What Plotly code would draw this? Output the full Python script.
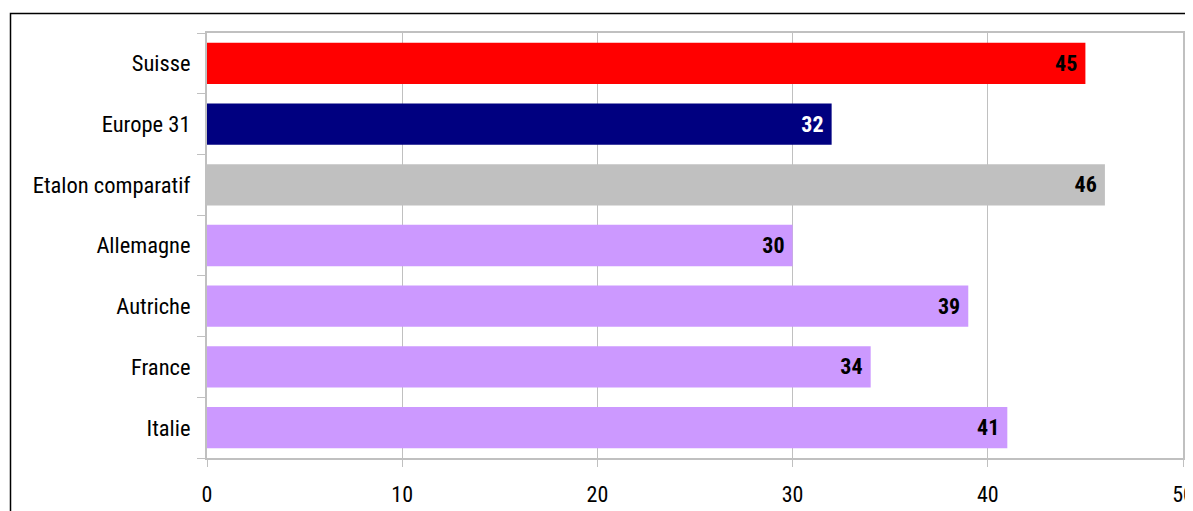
import plotly.graph_objects as go

categories = ["Suisse", "Europe 31", "Etalon comparatif", "Allemagne", "Autriche", "France", "Italie"]
values = [45, 32, 46, 30, 39, 34, 41]
bar_colors = ["#FF0000", "#000080", "#C0C0C0", "#CC99FF", "#CC99FF", "#CC99FF", "#CC99FF"]
label_colors = ["#000000", "#FFFFFF", "#000000", "#000000", "#000000", "#000000", "#000000"]
x_ticks = [0, 10, 20, 30, 40, 50]

narrow = ("Liberation Sans Narrow, Arial Narrow, Roboto Condensed, "
          "DejaVu Sans Condensed, sans-serif")

fig = go.Figure(go.Bar(
    y=categories,
    x=values,
    orientation="h",
    marker=dict(color=bar_colors, line=dict(width=0)),
    text=["<b>%d</b>\u00a0" % v for v in values],
    textposition="inside",
    insidetextanchor="end",
    textfont=dict(family=narrow, size=22, color=label_colors),
    constraintext="none",
    cliponaxis=False,
))

# page has an 8px body margin; figure sized so it fits in the 1193x511 window
W, H = 1185, 503
L, R, T, B = 199, 10, 25, 53
pw, ph = W - L - R, H - T - B

def px_x(x):
    return (x - L) / pw

def px_y(y):
    return 1 - (y - T) / ph

fig.update_layout(
    width=W, height=H,
    autosize=False,
    margin=dict(l=L, r=R, t=T, b=B, pad=0),
    paper_bgcolor="white",
    plot_bgcolor="white",
    showlegend=False,
    bargap=0.32,
    xaxis=dict(
        range=[0, 50],
        tickvals=x_ticks,
        ticktext=[str(t) for t in x_ticks],
        showgrid=True,
        gridcolor="#C0C0C0",
        gridwidth=1,
        showline=True,
        linecolor="#C0C0C0",
        linewidth=2,
        mirror=True,
        ticks="outside",
        ticklen=7,
        tickcolor="#C0C0C0",
        ticklabelstandoff=9,
        ticklabeloverflow="allow",
        tickfont=dict(family=narrow, size=22, color="#000000"),
        zeroline=False,
        automargin=False,
        fixedrange=True,
    ),
    yaxis=dict(
        categoryorder="array",
        categoryarray=categories[::-1],
        autorange=False,
        range=[-0.5, len(categories) - 0.5],
        showline=True,
        linecolor="#C0C0C0",
        linewidth=2,
        mirror=True,
        ticks="outside",
        tickson="boundaries",
        ticklen=8,
        tickcolor="#C0C0C0",
        tickfont=dict(family=narrow, size=22.5, color="#000000"),
        ticklabelstandoff=10,
        ticklabeloverflow="allow",
        showgrid=False,
        automargin=False,
        fixedrange=True,
    ),
    shapes=[
        dict(type="rect", xref="paper", yref="paper",
             x0=px_x(2.5), x1=px_x(1200), y0=px_y(5.5), y1=px_y(520),
             line=dict(color="#000000", width=1.5), fillcolor="rgba(0,0,0,0)", layer="below"),
    ],
)

fig.write_html("out.html")
